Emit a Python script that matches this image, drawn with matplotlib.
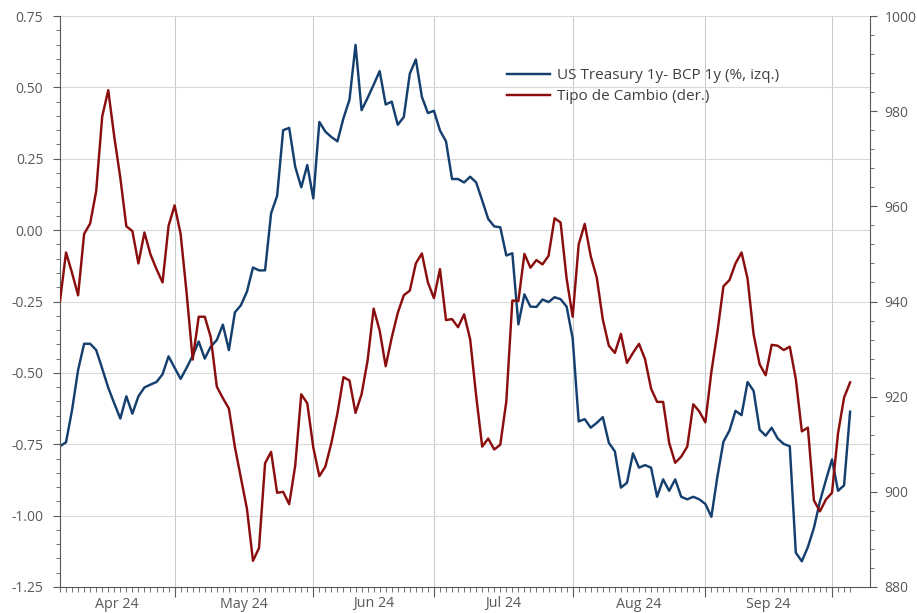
import matplotlib.pyplot as plt
import matplotlib.transforms as mtransforms
from matplotlib.ticker import MultipleLocator, FormatStrFormatter, FixedLocator
import numpy as np
import pandas as pd

plt.rcParams['font.family'] = ['Open Sans', 'DejaVu Sans']

# dias habiles desde el 4 de abril de 2024
fechas = pd.bdate_range('2024-04-04', periods=132)

# US Treasury 1y - BCP 1y (%, eje izquierdo)
spread = [
    -0.757, -0.743, -0.63, -0.49, -0.398, -0.398, -0.42, -0.485, -0.552, -0.607,
    -0.66, -0.582, -0.643, -0.582, -0.551, -0.541, -0.532, -0.505, -0.442, -0.482,
    -0.521, -0.482, -0.44, -0.39, -0.45, -0.408, -0.385, -0.331, -0.42, -0.288,
    -0.263, -0.215, -0.131, -0.141, -0.141, 0.059, 0.120, 0.350, 0.358, 0.222,
    0.150, 0.228, 0.111, 0.379, 0.345, 0.326, 0.311, 0.392, 0.457, 0.649,
    0.420, 0.463, 0.509, 0.557, 0.440, 0.450, 0.369, 0.396, 0.548, 0.598,
    0.467, 0.410, 0.418, 0.349, 0.311, 0.179, 0.179, 0.167, 0.187, 0.167,
    0.104, 0.039, 0.013, 0.010, -0.089, -0.081, -0.330, -0.225, -0.268, -0.269,
    -0.243, -0.252, -0.235, -0.242, -0.268, -0.379, -0.670, -0.662, -0.692, -0.675,
    -0.655, -0.745, -0.775, -0.902, -0.885, -0.782, -0.832, -0.823, -0.832, -0.934,
    -0.873, -0.913, -0.873, -0.934, -0.943, -0.934, -0.943, -0.959, -1.004, -0.863,
    -0.741, -0.702, -0.633, -0.648, -0.532, -0.563, -0.699, -0.72, -0.692, -0.73,
    -0.749, -0.757, -1.13, -1.16, -1.11, -1.043, -0.95, -0.875, -0.803, -0.913,
    -0.894, -0.636,
]

# Tipo de cambio (eje derecho)
tipo_cambio = [
    940.1, 950.3, 946.0, 941.3, 954.2, 956.4, 963.2, 978.9, 984.4, 974.6,
    966.0, 955.8, 954.8, 948.0, 954.5, 949.9, 946.8, 944.0, 955.9, 960.2,
    954.2, 941.7, 927.8, 936.8, 936.8, 932.5, 922.1, 919.7, 917.5, 909.4,
    902.9, 896.4, 885.5, 888.2, 906.0, 908.4, 899.8, 900.0, 897.4, 905.5,
    920.5, 918.6, 909.3, 903.3, 905.3, 910.3, 916.5, 924.1, 923.4, 916.6,
    920.5, 927.6, 938.5, 933.9, 926.4, 932.4, 937.6, 941.3, 942.3, 948.0,
    950.1, 944.0, 940.7, 946.8, 936.1, 936.3, 934.6, 937.3, 932.1, 920.2,
    909.5, 911.2, 908.9, 909.9, 919.0, 940.2, 940.1, 950.0, 947.1, 948.7,
    947.8, 949.6, 957.5, 956.6, 944.8, 936.8, 952.0, 956.3, 949.5, 945.0,
    936.2, 930.7, 929.2, 933.2, 927.1, 929.2, 931.1, 927.9, 921.7, 918.9,
    918.9, 910.3, 906.1, 907.4, 909.5, 918.4, 916.9, 914.6, 925.2, 933.6,
    943.2, 944.5, 948.0, 950.3, 944.8, 933.1, 926.8, 924.5, 930.9, 930.7,
    929.8, 930.5, 923.7, 912.7, 913.5, 898.2, 895.9, 898.4, 899.8, 912.3,
    919.8, 923.0,
]

azul = '#153F6E'
rojo = '#8B0E0E'
gris = '#595959'

x = np.arange(len(fechas))
inicio_mes = [i for i in range(1, len(fechas)) if fechas[i].month != fechas[i - 1].month]

fig = plt.figure(figsize=(9.17, 6.13), dpi=100)
ax = fig.add_axes([60 / 917, 1 - 587 / 613, 810 / 917, 571 / 613])
ax2 = ax.twinx()

l1, = ax.plot(x, spread, color=azul, lw=1.75, label='US Treasury 1y- BCP 1y (%, izq.)')
l2, = ax2.plot(x, tipo_cambio, color=rojo, lw=1.75, label='Tipo de Cambio (der.)')

ax.set_xlim(0, 134.3)
ax.set_ylim(-1.25, 0.75)
ax2.set_ylim(880, 1000)

ax.yaxis.set_major_locator(MultipleLocator(0.25))
ax.yaxis.set_minor_locator(MultipleLocator(0.05))
ax.yaxis.set_major_formatter(FormatStrFormatter('%.2f'))
ax2.yaxis.set_major_locator(MultipleLocator(20))
ax2.yaxis.set_minor_locator(MultipleLocator(4))

ax.xaxis.set_major_locator(FixedLocator(inicio_mes))
ax.xaxis.set_minor_locator(FixedLocator(x))
ax.tick_params(axis='x', which='major', length=7, color=gris, labelbottom=False)
ax.tick_params(axis='x', which='minor', length=3.5, color=gris)

for a in (ax, ax2):
    a.tick_params(axis='y', which='major', length=5, color=gris, labelcolor=gris,
                  labelsize=10)
    a.tick_params(axis='y', which='minor', length=3, color=gris)
    for s in a.spines.values():
        s.set_visible(False)
ax.tick_params(axis='y', which='major', pad=7)
ax2.tick_params(axis='y', which='major', pad=5.5)

ax.spines['left'].set_visible(True)
ax.spines['bottom'].set_visible(True)
ax2.spines['right'].set_visible(True)
ax.spines['left'].set_color(gris)
ax.spines['bottom'].set_color(gris)
ax2.spines['right'].set_color(gris)

ax.grid(axis='y', which='major', color='#D9D9D9', lw=0.8)
ax.grid(axis='x', which='major', color='#C5CBD1', lw=0.8)
ax.set_axisbelow(True)

# etiquetas de mes centradas entre los cortes
bordes = [0] + inicio_mes
trans = mtransforms.offset_copy(ax.get_xaxis_transform(), fig=fig, y=-17, units='dots')
for a, b in zip(bordes[:-1], bordes[1:]):
    ax.text((a + b) / 2, 0, fechas[a].strftime('%b %y'), transform=trans,
            ha='center', va='center', fontsize=10.3, color=gris)

fig.legend(handles=[l1, l2], loc='upper left', bbox_to_anchor=(507 / 917, 1 - 68 / 613),
           frameon=False, borderpad=0, borderaxespad=0, handlelength=2.8,
           handletextpad=0.45, labelspacing=0.42, fontsize=11, labelcolor='#404040')

fig.savefig('out.png', dpi=100)
